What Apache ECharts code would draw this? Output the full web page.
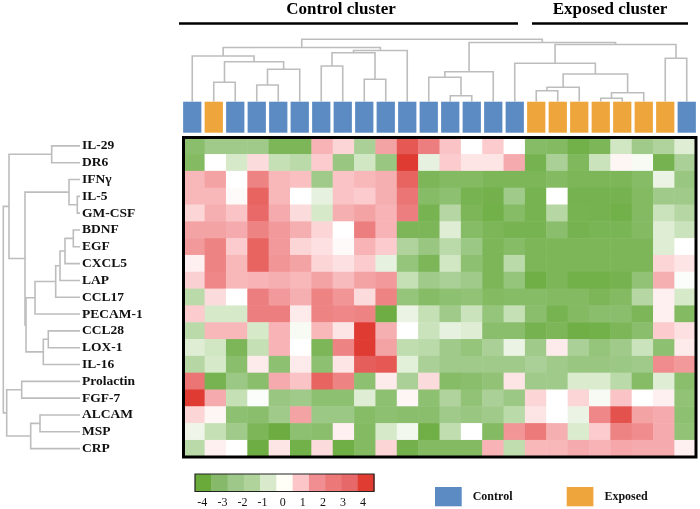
<!DOCTYPE html>
<html><head><meta charset="utf-8">
<script src="https://cdn.jsdelivr.net/npm/echarts@6/dist/echarts.min.js"></script>
<style>html,body{margin:0;padding:0;background:#fff}#c{width:700px;height:509px}</style>
</head><body><div id="c"></div>
<script>
// ---------- data ----------
const rowLabels = ['IL-29','DR6','IFNγ','IL-5','GM-CSF','BDNF','EGF','CXCL5','LAP','CCL17','PECAM-1','CCL28','LOX-1','IL-16','Prolactin','FGF-7','ALCAM','MSP','CRP'];
const sampleGroups = ['Control','Exposed','Control','Control','Control','Control','Control','Control','Control','Control','Control','Control','Control','Control','Control','Control','Exposed','Exposed','Exposed','Exposed','Exposed','Exposed','Exposed','Control'];
const il29     = [-2.6,-2,-2,-2,-3,-3,1.6,0.8,-1.8,2,3.5,2.8,1.2,0,1,0,-2.7,-2.8,-3.5,-3,-1.1,-2,-1.7,-0.8];
const dr6      = [-2.8,0,-1,0.7,-1.3,-1.5,1,-2.2,-1.1,-2.2,4,-0.6,1,0.5,0.5,1.8,-3.3,-1.8,-2.9,-1.2,0.2,-0.2,-3.3,-1.8];
const ifng     = [1.5,2,0,2.7,1.5,1.3,-2,1.2,1.5,1.7,3.3,-3,-2.8,-2.8,-3,-3,-3,-2.8,-3,-3,-3,-2.7,-0.5,-2.2];
const il5      = [1.5,1.5,0.1,3.3,1.5,0,-0.6,1.2,1,1.7,3,-2.7,-2.5,-3.2,-3.4,-2,-3.2,0,-3.3,-3.3,-3.3,-2.8,-2,-2];
const gmcsf    = [0.8,1.7,1.2,3.2,1.8,0.7,-1,1.7,2,1.6,2.8,-3.2,-1.6,-3,-3.5,-2.7,-3.2,-1.6,-3.2,-3.3,-3.5,-2.8,-1.2,-1.6];
const bdnf     = [2,2,1.8,2.7,2.2,1.7,0.8,0,2.8,1.6,-3,-3,-0.8,-2.7,-3,-3.2,-3.2,-2.6,-3.3,-3.1,-3.1,-2.8,-0.8,-1.2];
const egf      = [2.2,2.7,1,3.3,2.2,0.8,0.6,0.1,1.6,1,-1.7,-2.2,-1.5,-2.1,-3,-2.7,-3,-3,-3,-3,-3,-3,-0.8,0];
const cxcl5    = [0.3,2.7,1.5,3.3,2.3,2,0.8,0.6,1,-0.6,-2.3,-3,-1.1,-2.5,-3,-1.5,-3,-3,-3,-3,-3,-3,0.8,0.5];
const lap      = [0.9,2.6,1.5,1.6,1.7,1.5,2,1.4,2,2.2,-1.3,-2,-1.8,-2,-3,-2.3,-3.6,-3,-3.5,-3.5,-3.3,-2.4,1.7,-0.1];
const ccl17    = [-1.5,0.7,0,2.8,2.2,1.7,2.7,2.3,0.7,2.7,-2.3,-2.7,-2.5,-2.4,-2.8,-2.7,-2.7,-2.8,-2.8,-3,-2.8,-1.6,0.3,-1];
const pecam1   = [1,-1,-1,2.8,2.8,0.4,2.7,2.6,2.7,-3.7,-0.5,-1.3,-2,-1.2,-2.3,-1.3,-2.6,-3.2,-2.8,-2.6,-2.6,-3,0.3,-2.8];
const ccl28    = [-1.5,1.5,1.5,-1,1.6,-0.2,1.5,0.5,4,1.7,0,-1.2,-0.6,-0.8,-2.6,-2.6,-3.3,-3,-3.6,-3.5,-3,-2.6,1,0.6];
const lox1     = [-0.8,-1.1,-3,-1.3,1.6,0,-3,2.7,4,2,-1.4,-1.5,-2,-2.3,-1.8,-0.5,-2,0.4,-1.8,-2.3,-2,-1.2,-2.5,0.4];
const il16     = [-1.6,-1,-2.6,0.4,-2.5,0.4,-2.5,0.5,3.4,3.5,-0.7,-1.8,-2,-2,-2,-2,-1.8,-2,-2.2,-2.2,-2.1,-2,2.5,2.2];
const prolactin= [3,-3.2,-2.1,-2.6,1.8,1.2,3.3,2.7,-2.5,0.4,-1.8,0.7,-2.7,-2.6,-2.4,0.5,-2,-2,-0.9,-0.9,-1.5,-2.7,-0.8,-2.6];
const fgf7     = [4,1.8,-1.3,-0.1,-2.2,-2,-2.5,-2.5,-0.8,-2.5,0.2,-2.5,-1.7,-2.4,-1.8,-2.1,0.8,0,0.8,-0.2,1.2,0,0.3,-2.4];
const alcam    = [0.8,0.2,-2.5,-2.6,-2,2,-2.1,-2.1,-2.7,-2.5,-2.6,-2.6,-2,-2.2,-2,-1.5,0.5,0,-0.5,2.6,3.6,2,1.8,-2.5];
const msp      = [-0.4,-1.3,-2,-3,-3.8,-2.5,-2.6,0.3,-2.8,-1,-0.3,-3.6,-1.4,0,-2.8,2.3,2.9,1.7,-0.9,1,2.7,2.5,1.8,-2.4];
const crp      = [-1.5,0.3,0,-3.7,0.5,-3.5,0.7,-3.6,-2.8,0.8,-3.4,-2.8,-2.8,-2.8,1.6,-1.4,1.5,1.5,1.8,1.6,1.9,1.8,1.8,0.3];
const rowValues = [il29,dr6,ifng,il5,gmcsf,bdnf,egf,cxcl5,lap,ccl17,pecam1,ccl28,lox1,il16,prolactin,fgf7,alcam,msp,crp];

// dendrogram merges: [name, left child, right child, merge height]
const colMerges = [
 ['A',1,2,19.2],['B',3,4,16.5],['C','B',5,32.2],['D','A','C',39.8],['E',0,'D',45.5],
 ['F',6,7,35.5],['G',8,9,22.2],['H','F','G',48.8],['I','H',10,51],['X','E','I',54],
 ['L',12,13,5.8],['N',11,'L',24.2],['O','N',14,29.8],
 ['T',16,17,10.8],['R','T',18,14.2],['U',19,20,3.2],['S','U',21,8.8],['Q','R','S',27.5],
 ['P',15,'Q',38.2],['K',22,23,43.2],['V','P','K',57],['W','O','V',59],['root','X','W',62.2]
];
const rowMerges = [
 ['r1',0,1,28.3],['r2',3,4,2.7],['r3',2,'r2',11],['r4',5,6,6.7],['r5','r4',7,15],
 ['r6','r5',8,20],['r7','r6',9,24.3],['r8','r7',10,45],['r9',11,12,31.7],['r10','r9',13,36.7],
 ['r11','r8','r10',54],['r12','r3','r11',55],['r13','r1','r12',71],
 ['r14',14,15,58.3],['r15',16,17,40],['r16','r15',18,49.3],['r17','r14','r16',73.3],['root','r13','r17',76.7]
];
const legendTicks = [-4,-3,-2,-1,0,1,2,3,4];
const groupNames = ['Control','Exposed'];

// ---------- styles ----------
const groupColors = {Control:'#5b8bc2', Exposed:'#eea63c'};
const scaleColors = ['#68a93a','#7cb658','#a0ca8a','#d6e9c9','#ffffff','#fbcbcd','#f4a3a5','#eb7575','#df3b33'];
const legendColors = ['#6aaa3a','#86b96a','#9dc88a','#afd39b','#d8eacb','#fffff8','#fcc6c8','#f08e91','#ec7878','#e76868','#e03c32'];
const serif = '"Liberation Serif","Times New Roman",serif';
const dendroColor = '#bdbdbd';

// ---------- build ----------
const heatData = [];
rowValues.forEach((row, r) => row.forEach((v, c) => heatData.push([c, r, v])));

function buildSegments(merges) {
  const nodes = {};
  const get = k => (typeof k === 'number') ? {pos:k, h:0} : nodes[k];
  return merges.map(([name, a, b, h]) => {
    const L = get(a), R = get(b);
    nodes[name] = {pos:(L.pos + R.pos) / 2, h:h};
    return [L.pos, R.pos, L.h, R.h, h];
  });
}
const colSegs = buildSegments(colMerges);
const rowSegs = buildSegments(rowMerges);

function dendro(segs, idx, horizontal) {
  return {
    type:'custom', coordinateSystem:'cartesian2d', xAxisIndex:idx, yAxisIndex:idx,
    silent:true, clip:false, data:segs,
    encode: horizontal ? {x:4, y:0} : {x:0, y:4},
    renderItem:(params, api) => {
      const lp = api.value(0), rp = api.value(1), lh = api.value(2), rh = api.value(3), h = api.value(4);
      const P = horizontal ? (p, t) => api.coord([t, p]) : (p, t) => api.coord([p, t]);
      return {type:'polyline', shape:{points:[P(lp,lh),P(lp,h),P(rp,h),P(rp,rh)]},
              style:{fill:null, stroke:dendroColor, lineWidth:1.6}};
    }
  };
}

const HM = {left:183.5, top:137.5, width:512.5, height:319.5};
const hidden = {show:false};

const graphics = [
  {type:'text', style:{text:'Control cluster', font:'bold 17px '+serif, fill:'#000', x:341, y:10, textAlign:'center', textVerticalAlign:'middle'}},
  {type:'text', style:{text:'Exposed cluster', font:'bold 17px '+serif, fill:'#000', x:610, y:10, textAlign:'center', textVerticalAlign:'middle'}},
  {type:'line', shape:{x1:179, y1:23.5, x2:518, y2:23.5}, style:{stroke:'#000', lineWidth:2.5}},
  {type:'line', shape:{x1:532, y1:23.5, x2:688, y2:23.5}, style:{stroke:'#000', lineWidth:2.5}},
  {type:'rect', z:100, shape:{x:HM.left, y:HM.top, width:HM.width, height:HM.height}, style:{fill:null, stroke:'#000', lineWidth:3}}
];
// colour scale legend
const lgX = 195, lgY = 474, lgW = 179, lgH = 17.5;
legendColors.forEach((c, i) => {
  graphics.push({type:'rect', shape:{x:lgX + i*lgW/legendColors.length, y:lgY, width:lgW/legendColors.length+0.5, height:lgH}, style:{fill:c}});
});
graphics.push({type:'rect', shape:{x:lgX, y:lgY, width:lgW, height:lgH}, style:{fill:null, stroke:'#222', lineWidth:1.2}});
legendTicks.forEach((t) => {
  graphics.push({type:'text', style:{text:String(t), font:'12px '+serif, fill:'#111', x:202.3 + (t+4)*20.1, y:503, textAlign:'center', textVerticalAlign:'middle'}});
});
// group legend
groupNames.forEach((g, i) => {
  const bx = 435 + i*131.7;
  graphics.push({type:'rect', shape:{x:bx, y:487, width:26.7, height:19.3}, style:{fill:groupColors[g]}});
  graphics.push({type:'text', style:{text:g, font:'bold 12px '+serif, fill:'#111', x:bx+37.7, y:497, textAlign:'left', textVerticalAlign:'middle'}});
});

const option = {
  animation:false,
  backgroundColor:'#fff',
  grid:[
    Object.assign({}, HM),
    {left:181.5, top:39.3, width:516, height:62.2},
    {left:181.5, top:101.7, width:516, height:31},
    {left:3.3, top:HM.top, width:76.7, height:HM.height}
  ],
  xAxis:[
    {type:'category', gridIndex:0, data:sampleGroups.map((g,i)=>i), show:false},
    {type:'value', gridIndex:1, min:-0.5, max:23.5, show:false},
    {type:'value', gridIndex:2, min:-0.5, max:23.5, show:false},
    {type:'value', gridIndex:3, min:0, max:76.7, inverse:true, show:false}
  ],
  yAxis:[
    {type:'category', gridIndex:0, data:rowLabels, inverse:true,
     axisLine:hidden, axisTick:hidden, splitLine:hidden,
     axisLabel:{interval:0, margin:HM.left-82, align:'left', fontFamily:serif, fontSize:13.5, fontWeight:'bold', color:'#111'}},
    {type:'value', gridIndex:1, min:0, max:62.2, show:false},
    {type:'value', gridIndex:2, min:0, max:1, show:false},
    {type:'value', gridIndex:3, min:-0.5, max:18.5, inverse:true, show:false}
  ],
  visualMap:{type:'continuous', show:false, min:-4, max:4, seriesIndex:0, dimension:2, inRange:{color:scaleColors}},
  series:[
    {type:'heatmap', xAxisIndex:0, yAxisIndex:0, data:heatData, silent:true, itemStyle:{borderWidth:0}, emphasis:{disabled:true}},
    dendro(colSegs, 1, false),
    {type:'custom', coordinateSystem:'cartesian2d', xAxisIndex:2, yAxisIndex:2, silent:true,
     data:sampleGroups.map((g,i)=>[i, 1]),
     renderItem:(params, api) => {
       const band = api.size([1, 0])[0];
       const top = api.coord([api.value(0), 1]);
       const bottom = api.coord([api.value(0), 0]);
       const w = band*0.85;
       return {type:'rect', shape:{x:top[0]-w/2, y:top[1], width:w, height:bottom[1]-top[1]},
               style:{fill:groupColors[sampleGroups[params.dataIndex]]}};
     }},
    dendro(rowSegs, 3, true)
  ],
  graphic:graphics
};
const chart = echarts.init(document.getElementById('c'), null, {renderer:'canvas'});
chart.setOption(option);
</script></body></html>
